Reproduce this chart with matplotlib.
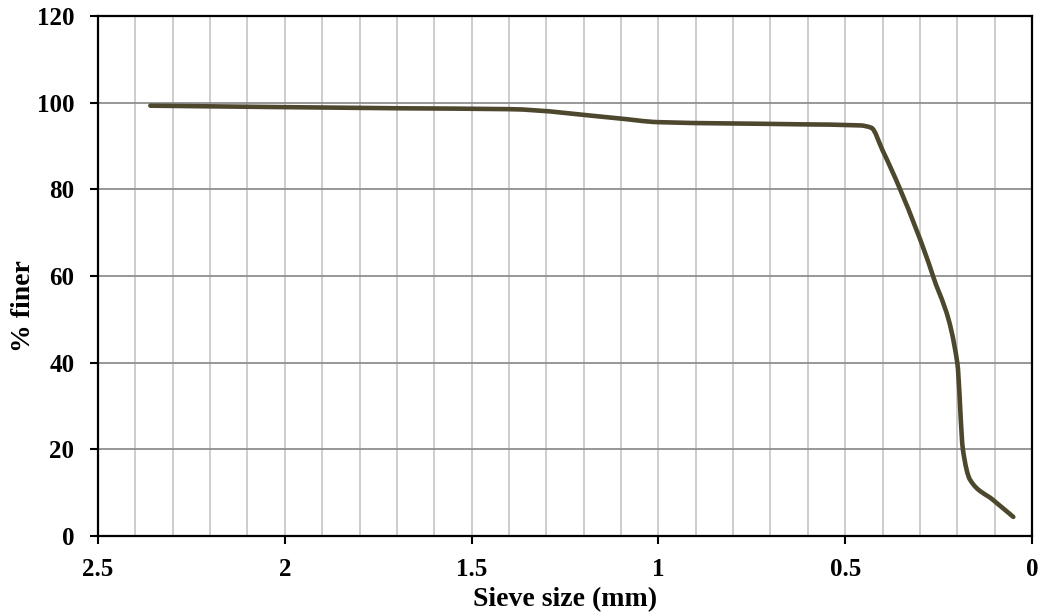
import numpy as np
import matplotlib
matplotlib.use("Agg")
import matplotlib.pyplot as plt
from matplotlib.path import Path
from matplotlib.patches import PathPatch
from matplotlib.ticker import MultipleLocator, FuncFormatter

# --- data (sieve size mm, % finer) ---
sieve_mm = [2.36, 1.69, 1.4, 1.11, 1.0, 0.62, 0.46, 0.43, 0.40, 0.353,
            0.265, 0.2, 0.185, 0.166, 0.104, 0.072, 0.05]
pct_finer = [99.3, 98.7, 98.5, 96.4, 95.5, 95.0, 94.75, 94.2, 89.0, 80.0,
             60.0, 40.0, 20.0, 13.0, 8.3, 6.0, 4.4]

LINE_COLOR = "#4d472e"

plt.rcParams["font.family"] = ["Liberation Serif", "DejaVu Serif"]
plt.rcParams["font.weight"] = "bold"


def smooth_path(xs, ys):
    # 単調3次補間 (Fritsch-Carlson) の接線でベジェ曲線を作る
    x = np.asarray(xs, float)
    y = np.asarray(ys, float)
    h = np.diff(x)
    d = np.diff(y) / h
    n = len(x)
    m = np.zeros(n)
    m[0], m[-1] = d[0], d[-1]
    for i in range(1, n - 1):
        if d[i - 1] * d[i] <= 0:
            m[i] = 0.0
        else:
            w1 = 2 * h[i] + h[i - 1]
            w2 = h[i] + 2 * h[i - 1]
            m[i] = (w1 + w2) / (w1 / d[i - 1] + w2 / d[i])
    verts = [(x[0], y[0])]
    codes = [Path.MOVETO]
    for i in range(n - 1):
        dx = h[i] / 3.0
        verts += [(x[i] + dx, y[i] + m[i] * dx),
                  (x[i + 1] - dx, y[i + 1] - m[i + 1] * dx),
                  (x[i + 1], y[i + 1])]
        codes += [Path.CURVE4] * 3
    return Path(verts, codes)


fig = plt.figure(figsize=(10.44, 6.15), dpi=100)
ax = fig.add_axes([0.0939, 0.1285, 0.8946, 0.8455])

patch = PathPatch(smooth_path(sieve_mm, pct_finer), facecolor="none",
                  edgecolor=LINE_COLOR, lw=3.3, capstyle="round", joinstyle="round", zorder=3)
ax.add_patch(patch)

ax.set_xlim(2.5, 0)
ax.set_ylim(0, 120)
ax.xaxis.set_major_locator(MultipleLocator(0.5))
ax.xaxis.set_minor_locator(MultipleLocator(0.1))
ax.yaxis.set_major_locator(MultipleLocator(20))

ax.grid(True, which="both", axis="x", color="#c4c4c4", lw=1.2, zorder=0)
ax.grid(True, which="major", axis="y", color="#8f8f8f", lw=1.3, zorder=0)

for s in ax.spines.values():
    s.set_color("black")
    s.set_linewidth(1.6)

ax.tick_params(axis="x", which="major", direction="out", length=6, width=1.5, pad=10, labelsize=18)
ax.tick_params(axis="x", which="minor", length=0)
ax.tick_params(axis="y", which="major", direction="out", length=6, width=1.5, pad=11, labelsize=18)

ax.xaxis.set_major_formatter(FuncFormatter(lambda v, p: f"{v:g}"))

ax.set_xlabel("Sieve size (mm)", fontsize=20, fontweight="bold", labelpad=4)
ax.set_ylabel("% finer", fontsize=20, fontweight="bold")
ax.yaxis.set_label_coords(-0.066, 0.442)

fig.savefig("out.png", dpi=100)
